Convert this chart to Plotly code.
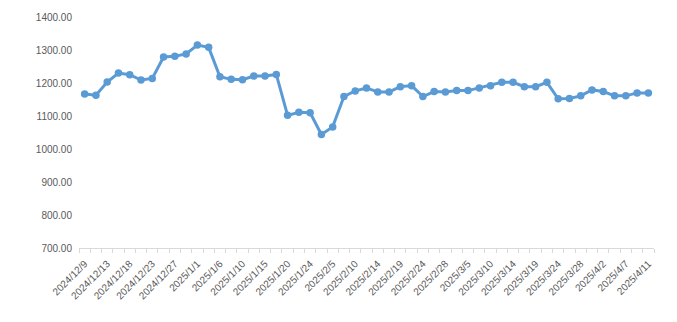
import plotly.graph_objects as go

dates = [
    "2024/12/9", "2024/12/11", "2024/12/13", "2024/12/16", "2024/12/18", "2024/12/20",
    "2024/12/23", "2024/12/25", "2024/12/27", "2024/12/30", "2025/1/1", "2025/1/3",
    "2025/1/6", "2025/1/8", "2025/1/10", "2025/1/13", "2025/1/15", "2025/1/17",
    "2025/1/20", "2025/1/22", "2025/1/24", "2025/1/27", "2025/2/5", "2025/2/7",
    "2025/2/10", "2025/2/12", "2025/2/14", "2025/2/17", "2025/2/19", "2025/2/21",
    "2025/2/24", "2025/2/26", "2025/2/28", "2025/3/3", "2025/3/5", "2025/3/7",
    "2025/3/10", "2025/3/12", "2025/3/14", "2025/3/17", "2025/3/19", "2025/3/21",
    "2025/3/24", "2025/3/26", "2025/3/28", "2025/3/31", "2025/4/2", "2025/4/3",
    "2025/4/7", "2025/4/9", "2025/4/11",
]
values = [
    1167, 1163, 1203, 1230, 1225, 1209, 1214, 1279, 1281, 1288,
    1315, 1308, 1219, 1211, 1210, 1221, 1221, 1226, 1102, 1111,
    1110, 1044, 1067, 1159, 1176, 1185, 1173, 1173, 1189, 1192,
    1159, 1174, 1173, 1177, 1177, 1185, 1192, 1202, 1202, 1189,
    1189, 1202, 1152, 1153, 1161, 1179, 1174, 1161, 1161, 1170,
    1170,
]
y_ticks = [700, 800, 900, 1000, 1100, 1200, 1300, 1400]

idx = list(range(len(dates)))
label_idx = idx[::2]
label_txt = [dates[i] for i in label_idx]

fig = go.Figure(go.Scatter(
    x=idx, y=values, mode="lines+markers",
    line=dict(color="#5B9BD5", width=3),
    marker=dict(color="#5B9BD5", size=7.5),
    hoverinfo="skip",
))

fig.update_layout(
    width=677, height=322,
    margin=dict(l=79, r=23, t=17, b=74),
    paper_bgcolor="white", plot_bgcolor="white",
    showlegend=False,
    font=dict(family="Liberation Sans, Arial, sans-serif", size=10, color="#595959"),
    xaxis=dict(
        range=[-0.5, len(dates) - 0.5],
        tickmode="array", tickvals=label_idx, ticktext=label_txt,
        tickangle=-45, ticks="", showgrid=False, zeroline=False,
        showline=True, linecolor="#D9D9D9", linewidth=1,
        ticklabelstandoff=5,
        tickfont=dict(size=10, color="#595959"),
        minor=dict(tick0=0.5, dtick=1, ticks="outside", ticklen=4,
                   tickcolor="#D9D9D9", showgrid=False),
    ),
    yaxis=dict(
        range=[700, 1400], tickmode="array", tickvals=y_ticks,
        ticktext=[f"{v:.2f}" for v in y_ticks],
        showgrid=False, zeroline=False, showline=False, ticks="",
        ticklabelstandoff=6,
        tickfont=dict(size=10, color="#595959"),
    ),
)

fig.write_html("out.html")
